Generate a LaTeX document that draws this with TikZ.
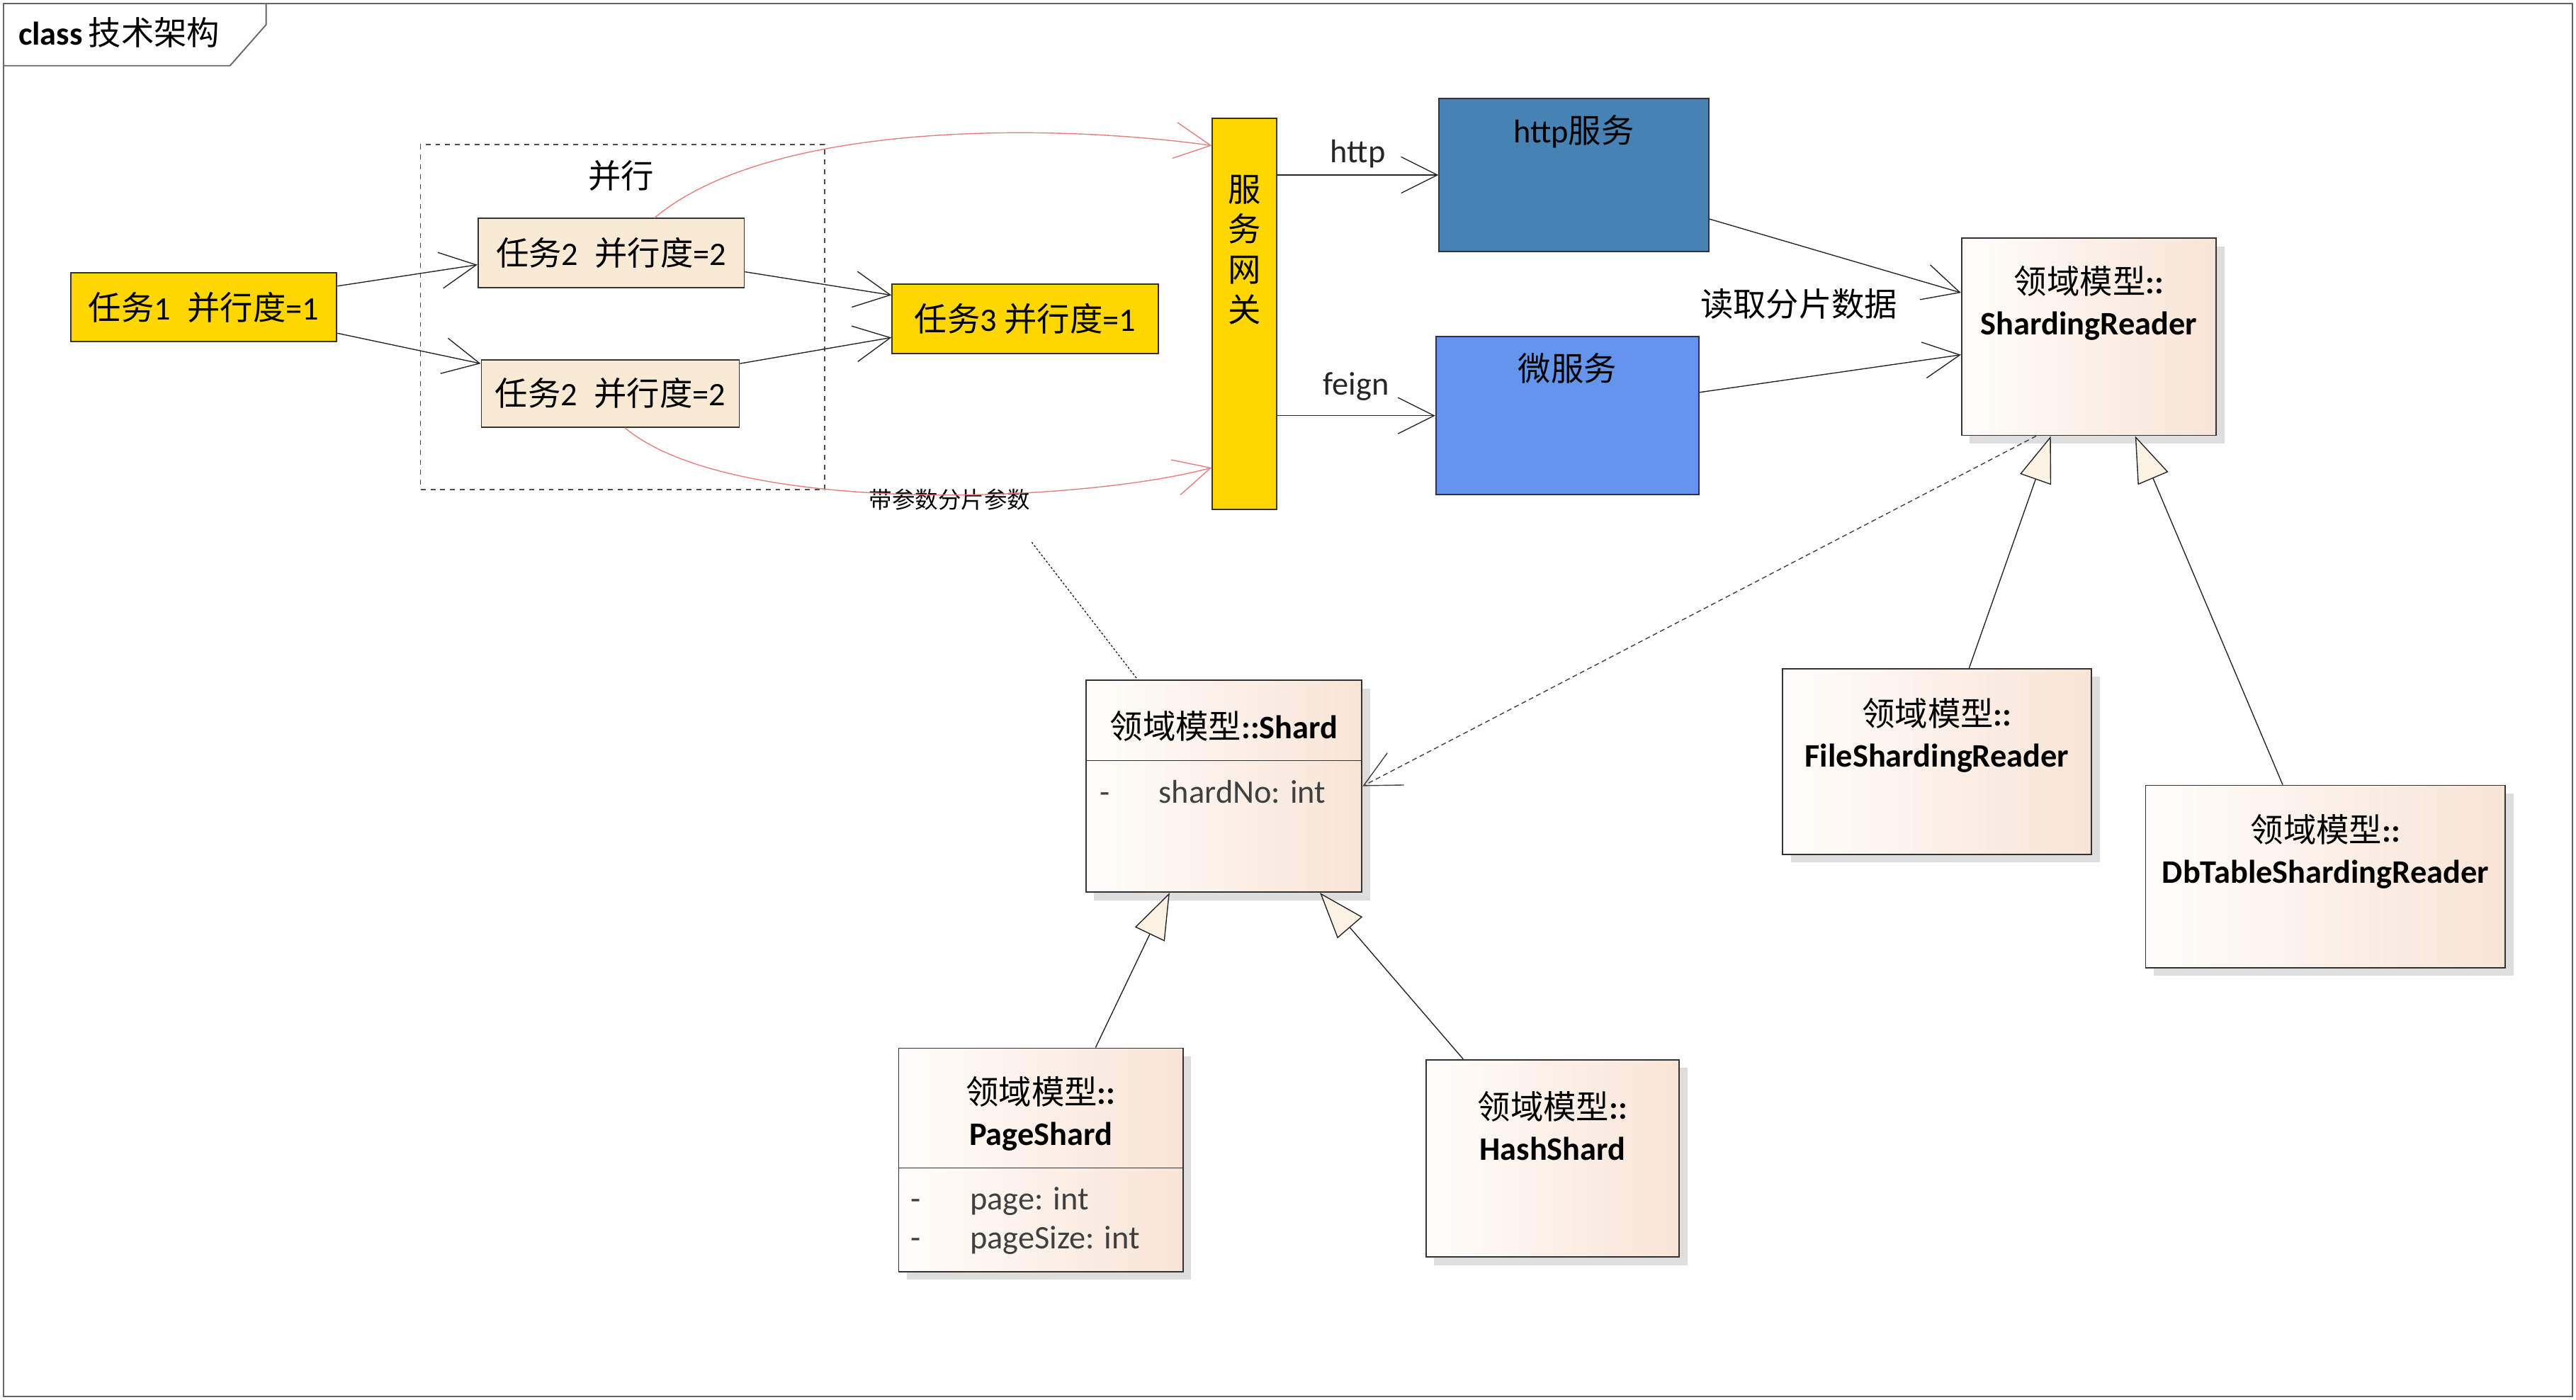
\documentclass[tikz,border=0pt]{standalone}
\usepackage{fontspec}
\setmainfont{Carlito}
\newfontfamily\cjk{Noto Sans CJK SC}
\usetikzlibrary{arrows.meta,shadows,positioning}

\newcommand{\zh}[1]{{\cjk #1}}

\definecolor{taskyellow}{RGB}{255,215,0}
\definecolor{taskbeige}{RGB}{249,234,214}
\definecolor{httpblue}{RGB}{70,130,180}
\definecolor{microblue}{RGB}{100,149,237}
\definecolor{clsleft}{RGB}{255,253,251}
\definecolor{clsright}{RGB}{248,228,214}
\definecolor{shadowgray}{RGB}{221,221,221}
\definecolor{callred}{RGB}{226,128,128}
\definecolor{trifill}{RGB}{251,242,228}
\definecolor{attrgray}{RGB}{64,64,64}

\begin{document}
\begin{tikzpicture}[x=1pt,y=-1pt,>={Straight Barb[length=22pt,width=22pt]},
                    line width=0.6pt,font=\fontsize{20}{25}\selectfont]
  \tikzstyle{every node}=[inner sep=0pt]
  \tikzstyle{box}=[rectangle,draw=black!80,line width=0.8pt]
  \tikzstyle{task}=[box,fill=taskyellow]
  \tikzstyle{subtask}=[box,fill=taskbeige]
  \tikzstyle{cls}=[box,left color=clsleft,right color=clsright,
                   drop shadow={shadow xshift=5pt,shadow yshift=-5pt,fill=shadowgray,opacity=1}]
  \tikzstyle{flow}=[->,black!85]
  \tikzstyle{call}=[->,callred]
  \tikzstyle{generalize}=[-{Triangle[length=28pt,width=20pt,fill=trifill]},black!85]
  \tikzstyle{attr}=[anchor=west,text=attrgray]

  \useasboundingbox (0,0) rectangle (1568,852);
  \draw[black!60,line width=0.8pt] (2,2) rectangle (1566,850);
  \draw[black!60,line width=0.8pt] (2,40) -- (140,40) -- (162,15) -- (162,2);
  \node[anchor=west] (title) at (11,20) {\textbf{class}\,\zh{技术架构}};

  % tasks
  \node[draw=black!70,dashed,minimum width=246,minimum height=210] (grp) at (379,193) {};
  \node (grplbl) at (378,107) {\zh{并行}};
  \node[task,minimum width=162,minimum height=42] (task1) at (124,187)
        {\zh{任务}1\enspace\zh{并行度}=1};
  \node[subtask,minimum width=162,minimum height=42] (task2a) at (372,154)
        {\zh{任务}2\enspace\zh{并行度}=2};
  \node[subtask,minimum width=157,minimum height=41] (task2b) at (371.5,239.5)
        {\zh{任务}2\enspace\zh{并行度}=2};
  \node[task,minimum width=162,minimum height=42] (task3) at (624,194)
        {\zh{任务}3 \zh{并行度}=1};

  % gateway and services
  \node[task,minimum width=39,minimum height=238] (gateway) at (757.5,191) {};
  \node[align=center,font=\fontsize{20}{24.5}\selectfont\cjk] (gatewaylbl) at (757.5,152)
        {服\\务\\网\\关};
  \node[box,fill=httpblue,minimum width=164,minimum height=93] (httpsvc) at (958,106.5) {};
  \node (httpsvclbl) at (958,80) {http\zh{服务}};
  \node[box,fill=microblue,minimum width=160,minimum height=96] (microsvc) at (954,253) {};
  \node (microsvclbl) at (954,224) {\zh{微服务}};

  % domain model
  \node[cls,minimum width=155,minimum height=120] (reader) at (1271.5,205) {};
  \node[align=center] (readerlbl) at (1271.5,184.5) {\zh{领域模型}\textbf{::}\\\textbf{ShardingReader}};
  \node[cls,minimum width=188,minimum height=113] (filereader) at (1179,463.5) {};
  \node[align=center] (filereaderlbl) at (1179,447.5) {\zh{领域模型}\textbf{::}\\\textbf{FileShardingReader}};
  \node[cls,minimum width=219,minimum height=111] (dbreader) at (1415.5,533.5) {};
  \node[align=center] (dbreaderlbl) at (1415.5,518.5) {\zh{领域模型}\textbf{::}\\\textbf{DbTableShardingReader}};

  \node[cls,minimum width=168,minimum height=129] (shard) at (745,478.5) {};
  \node (shardlbl) at (745,442) {\zh{领域模型}\textbf{::Shard}};
  \draw[black!80] (shard.west |- 0,463) -- (shard.east |- 0,463);
  \node[attr] (shardattr) at (669,482) {-\hspace{30pt}shardNo: int};

  \node[cls,minimum width=173,minimum height=136] (pageshard) at (633.5,706) {};
  \node[align=center] (pageshardlbl) at (633.5,678) {\zh{领域模型}\textbf{::}\\\textbf{PageShard}};
  \draw[black!80] (pageshard.west |- 0,711) -- (pageshard.east |- 0,711);
  \node[attr] (pageattr) at (554,731) {-\hspace{30pt}page: int};
  \node[attr] (sizeattr) at (554,755) {-\hspace{30pt}pageSize: int};
  \node[cls,minimum width=154,minimum height=120] (hashshard) at (945,705) {};
  \node[align=center] (hashshardlbl) at (945,685.5) {\zh{领域模型}\textbf{::}\\\textbf{HashShard}};

  \node (readlbl) at (1095,185) {\zh{读取分片数据}};
  \node[font=\fontsize{14}{16}\selectfont\cjk] (paramlbl) at (578,304) {带参数分片参数};
  \coordinate (notept) at (628,330);

  % connectors
  \draw[flow] (task1.9) -- (task2a.185);
  \draw[flow] (task1.-11) -- (task2b.167);
  \draw[flow] (task2a.-8) -- (task3.170);
  \draw[flow] (task2b.13) -- (task3.188);
  \draw[call] (task2a.39) to[out=40,in=172,looseness=0.7] (gateway.101);
  \draw[call] (task2b.-67) to[out=-40,in=195,looseness=0.6] (gateway.258);
  \draw[flow] (gateway.east |- httpsvc.west) -- node[above=4pt] (httplbl) {http} (httpsvc.west);
  \draw[flow] (gateway.east |- microsvc.west) -- node[above=9pt] (feignlbl) {feign} (microsvc.west);
  \draw[flow] (httpsvc.-18) -- (reader.161);
  \draw[flow] (microsvc.10) -- (reader.188);
  \draw[->,black!75,dash pattern=on 3pt off 2pt] (reader.242) -- (shard.east);
  \draw[black!85,dash pattern=on 1.2pt off 1.2pt] (notept) -- (shard.129);
  \draw[generalize] (filereader.71) -- (reader.249);
  \draw[generalize] (dbreader.115) -- (reader.-65);
  \draw[generalize] (pageshard.64) -- (shard.243);
  \draw[generalize] (hashshard.132) -- (shard.-48);
\end{tikzpicture}
\end{document}
